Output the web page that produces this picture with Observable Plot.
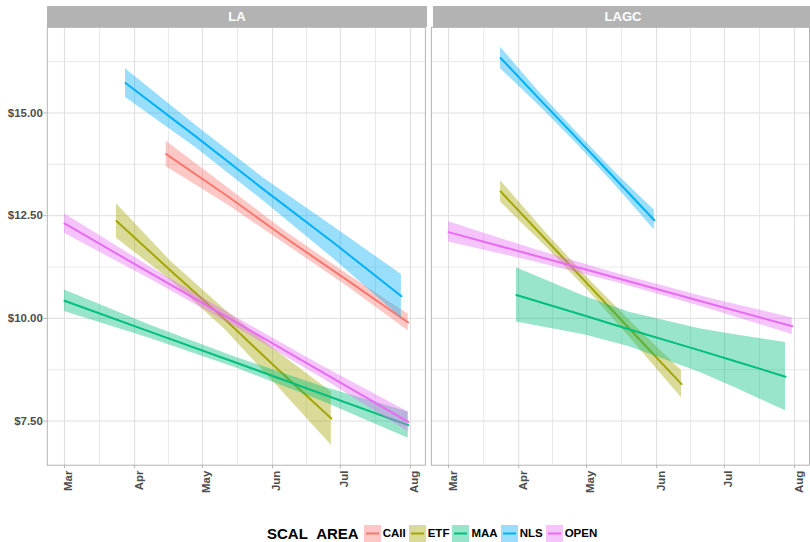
<!DOCTYPE html>
<html><head><meta charset="utf-8">
<script src="https://cdn.jsdelivr.net/npm/d3@7"></script>
<script src="https://cdn.jsdelivr.net/npm/@observablehq/plot@0.6"></script>
<style>
body{margin:0;background:#fff;font-family:"Liberation Sans",Arial,sans-serif;}
#wrap{position:relative;width:810px;height:542px;overflow:hidden;background:#fff;}
#wrap svg{position:absolute;left:0;top:0;}
.strip{position:absolute;top:6px;height:21px;background:#B3B3B3;color:#fff;font-weight:bold;font-size:13px;display:flex;align-items:center;justify-content:center;}
#legend{position:absolute;left:267px;top:525px;height:17px;display:flex;align-items:center;white-space:nowrap;}
#legend .title{font-size:15px;line-height:17px;font-weight:bold;color:#000;margin-right:5px;}
#legend .title .us{color:transparent;}
#legend .lab{font-size:11.5px;line-height:17px;font-weight:bold;color:#000;margin:0 3px 0 2px;}
</style></head><body><div id="wrap"></div>
<script>
const panels = ["LA", "LAGC"];
const areas = ["CAII", "ETF", "MAA", "NLS", "OPEN"];
const colors = ["#F8766D", "#A3A500", "#00BF7D", "#00B0F6", "#E76BF3"];
const yTicks = [7.5, 10, 12.5, 15];
const yMinor = [8.75, 11.25, 13.75, 16.25];
const monthTicks = ["2019-03-01", "2019-04-01", "2019-05-01", "2019-06-01", "2019-07-01", "2019-08-01"];
const monthMinor = ["2019-03-16T12:00Z", "2019-04-16T00:00Z", "2019-05-16T12:00Z", "2019-06-16T00:00Z", "2019-07-16T12:00Z"];
const legendTitle = ["SCAL", "_", "AREA"];

// each row: [date, lower, fit, upper]
const LA_CAII = [["2019-04-15", 13.69, 14.00, 14.31], ["2019-05-12", 12.77, 12.98, 13.19], ["2019-06-07", 11.80, 11.95, 12.10], ["2019-07-04", 10.78, 10.93, 11.08], ["2019-07-31", 9.70, 9.90, 10.10]];
const LA_ETF = [["2019-03-24", 11.95, 12.37, 12.79], ["2019-04-17", 10.93, 11.16, 11.39], ["2019-05-11", 9.73, 9.97, 10.21], ["2019-06-03", 8.36, 8.78, 9.20], ["2019-06-27", 6.91, 7.56, 8.21]];
const LA_MAA = [["2019-03-01", 10.17, 10.43, 10.69], ["2019-04-08", 9.51, 9.67, 9.83], ["2019-05-16", 8.79, 8.92, 9.05], ["2019-06-23", 7.98, 8.16, 8.34], ["2019-07-31", 7.08, 7.40, 7.72]];
const LA_NLS = [["2019-03-28", 15.38, 15.73, 16.08], ["2019-04-28", 14.16, 14.43, 14.70], ["2019-05-28", 12.86, 13.14, 13.42], ["2019-06-28", 11.45, 11.84, 12.23], ["2019-07-28", 10.01, 10.54, 11.07]];
const LA_OPEN = [["2019-03-01", 12.07, 12.31, 12.55], ["2019-04-08", 10.95, 11.10, 11.25], ["2019-05-16", 9.78, 9.90, 10.02], ["2019-06-23", 8.54, 8.69, 8.84], ["2019-07-31", 7.24, 7.48, 7.72]];
const LAGC_ETF = [["2019-03-24", 12.83, 13.09, 13.35], ["2019-04-13", 11.75, 11.92, 12.09], ["2019-05-03", 10.60, 10.75, 10.90], ["2019-05-23", 9.35, 9.57, 9.79], ["2019-06-12", 8.07, 8.40, 8.73]];
const LAGC_MAA = [["2019-03-31", 9.91, 10.57, 11.23], ["2019-04-30", 9.60, 10.07, 10.54], ["2019-05-20", 9.31, 9.73, 10.15], ["2019-06-20", 8.69, 9.22, 9.75], ["2019-07-05", 8.33, 8.97, 9.61], ["2019-07-28", 7.75, 8.58, 9.41]];
const LAGC_NLS = [["2019-03-24", 16.08, 16.34, 16.60], ["2019-04-10", 15.18, 15.35, 15.52], ["2019-04-27", 14.23, 14.37, 14.51], ["2019-05-14", 13.22, 13.38, 13.54], ["2019-05-31", 12.15, 12.39, 12.63]];
const LAGC_OPEN = [["2019-03-01", 11.86, 12.10, 12.35], ["2019-04-08", 11.38, 11.53, 11.68], ["2019-05-16", 10.85, 10.96, 11.07], ["2019-06-23", 10.25, 10.38, 10.51], ["2019-07-31", 9.61, 9.81, 10.01]];

const seriesList = [
  ["LA", "CAII", LA_CAII], ["LA", "ETF", LA_ETF], ["LA", "MAA", LA_MAA], ["LA", "NLS", LA_NLS], ["LA", "OPEN", LA_OPEN],
  ["LAGC", "ETF", LAGC_ETF], ["LAGC", "MAA", LAGC_MAA], ["LAGC", "NLS", LAGC_NLS], ["LAGC", "OPEN", LAGC_OPEN]
];
const rows = seriesList.flatMap(([panel, area, pts]) =>
  pts.map(([d, lo, fit, hi]) => ({panel, area, date: new Date(d), lo, fit, hi})));

// ggplot-like 5% expansion of the data range
const xExt = d3.extent(rows, d => d.date);
const xPad = (xExt[1] - xExt[0]) * 0.05;
const xDom = [new Date(+xExt[0] - xPad), new Date(+xExt[1] + xPad)];
const yLo = d3.min(rows, d => d.lo), yHi = d3.max(rows, d => d.hi);
const yPad = (yHi - yLo) * 0.05;
const yDom = [yLo - yPad, yHi + yPad];

const majorDates = monthTicks.map(d => new Date(d));
const minorDates = monthMinor.map(d => new Date(d));

const seriesMarks = areas.flatMap((a, i) => [
  Plot.areaY(rows, {filter: d => d.area === a, fx: "panel", x: "date", y1: "lo", y2: "hi", fill: colors[i], fillOpacity: 0.4}),
  Plot.lineY(rows, {filter: d => d.area === a, fx: "panel", x: "date", y: "fit", stroke: colors[i], strokeWidth: 2})
]);

const chart = Plot.plot({
  width: 814, height: 510,
  marginLeft: 47, marginRight: 1, marginTop: 27, marginBottom: 43,
  style: {fontFamily: "'Liberation Sans', Arial, sans-serif", fontSize: "11.5px", fontWeight: "bold", background: "transparent", overflow: "visible"},
  fx: {domain: panels, paddingInner: 6 / 386, paddingOuter: 0, round: false, axis: null, label: null},
  x: {type: "utc", domain: xDom, axis: null},
  y: {domain: yDom, axis: null},
  marks: [
    Plot.ruleY(yMinor, {stroke: "#E3E3E3", strokeWidth: 0.8}),
    Plot.ruleY(yTicks, {stroke: "#DEDEDE", strokeWidth: 1}),
    Plot.ruleX(minorDates, {stroke: "#E3E3E3", strokeWidth: 0.8}),
    Plot.ruleX(majorDates, {stroke: "#DEDEDE", strokeWidth: 1}),
    ...seriesMarks,
    Plot.frame({stroke: "#B3B3B3", strokeWidth: 1}),
    Plot.axisY(yTicks, {anchor: "left", tickSize: 3.5, tickPadding: 1, tickFormat: d => "$" + d.toFixed(2), stroke: "#B3B3B3", fill: "#4D4D4D", label: null}),
    Plot.axisX(majorDates, {anchor: "bottom", tickSize: 3.5, tickFormat: () => "", stroke: "#B3B3B3", label: null}),
    Plot.axisX(majorDates, {anchor: "bottom", tickSize: 0, tickPadding: 5.5, tickRotate: -90, dx: 4.3, tickFormat: d3.utcFormat("%b"), fill: "#4D4D4D", label: null})
  ]
});

const wrap = document.getElementById("wrap");
wrap.appendChild(chart);

// facet strips
const fxScale = chart.scale("fx");
panels.forEach(p => {
  const s = document.createElement("div");
  s.className = "strip";
  s.style.left = (47 + (fxScale.apply(p) - fxScale.apply(panels[0]))) + "px";
  s.style.width = fxScale.bandwidth + "px";
  s.textContent = p;
  wrap.appendChild(s);
});

// legend
const leg = document.createElement("div");
leg.id = "legend";
const t = document.createElement("span");
t.className = "title";
legendTitle.forEach((part, j) => {
  const sp = document.createElement("span");
  if (j === 1) sp.className = "us";
  sp.textContent = part;
  t.appendChild(sp);
});
leg.appendChild(t);
areas.forEach((a, i) => {
  const ns = "http://www.w3.org/2000/svg";
  const k = document.createElementNS(ns, "svg");
  k.setAttribute("width", 17); k.setAttribute("height", 17);
  k.style.position = "static";
  const r = document.createElementNS(ns, "rect");
  r.setAttribute("width", 17); r.setAttribute("height", 17);
  r.setAttribute("fill", colors[i]); r.setAttribute("fill-opacity", 0.4);
  const l = document.createElementNS(ns, "line");
  l.setAttribute("x1", 2); l.setAttribute("x2", 15); l.setAttribute("y1", 8.5); l.setAttribute("y2", 8.5);
  l.setAttribute("stroke", colors[i]); l.setAttribute("stroke-width", 2);
  k.appendChild(r); k.appendChild(l);
  leg.appendChild(k);
  const lab = document.createElement("span");
  lab.className = "lab";
  lab.textContent = a;
  leg.appendChild(lab);
});
wrap.appendChild(leg);
</script></body></html>
